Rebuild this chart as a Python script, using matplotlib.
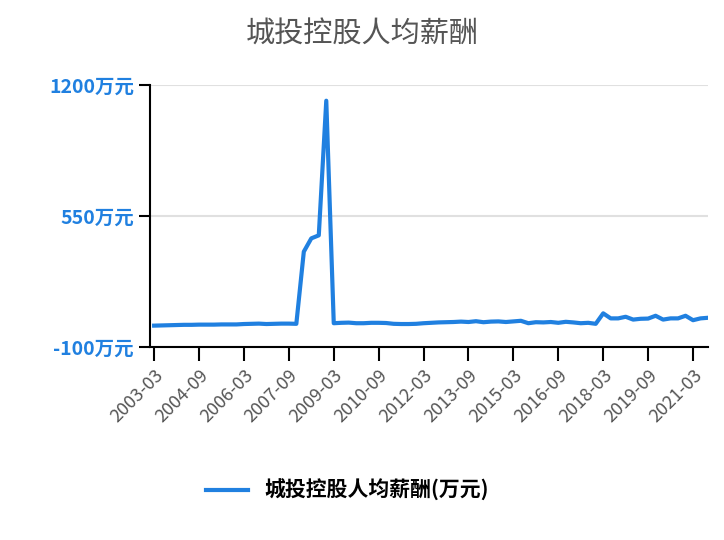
import pandas as pd
import matplotlib.pyplot as plt

plt.rcParams['font.family'] = ['Noto Sans CJK SC', 'DejaVu Sans']

dates = pd.period_range('2003Q1', '2021Q3', freq='Q')
labels = [f'{p.year}-{p.quarter * 3:02d}' for p in dates]
salary = [6, 7, 8, 9, 10, 10, 11, 11, 11, 12, 12, 12, 14, 15, 16, 14, 15, 16, 16, 15,
          373, 439, 454, 1122, 18, 20, 21, 18, 18, 20, 20, 19, 15, 14, 14, 15, 18, 20, 22, 23,
          24, 26, 24, 28, 23, 26, 27, 24, 27, 30, 18, 23, 22, 24, 20, 25, 22, 18, 20, 15,
          67, 42, 42, 50, 36, 40, 41, 55, 36, 42, 42, 55, 33, 42, 45]
blue = '#2080e0'

fig = plt.figure(figsize=(7.24, 5.4), dpi=100)
ax = fig.add_axes([150 / 724, 1 - 347 / 540, (708 - 150) / 724, 262 / 540])
x = range(len(salary))
ax.plot(x, salary, color=blue, lw=3, label='城投控股人均薪酬(万元)')
ax.set_xlim(-0.55, len(salary) - 1)
ax.set_ylim(-100, 1200)
ax.set_yticks([-100, 550, 1200])
ax.set_yticklabels(['-100万元', '550万元', '1200万元'], color=blue,
                   fontsize=14, fontweight='bold')
ax.tick_params(axis='y', length=8, width=1.5)
ticks = list(range(0, len(salary), 6))
ax.set_xticks(ticks)
ax.set_xticklabels([labels[i] for i in ticks], rotation=45, ha='right',
                   rotation_mode='anchor', color='#555555', fontsize=13)
ax.tick_params(axis='x', length=10, width=1.5)
ax.grid(axis='y', color='#e0e0e0', lw=1.5)
ax.set_axisbelow(True)
for s in ['top', 'right']:
    ax.spines[s].set_visible(False)
for s in ['left', 'bottom']:
    ax.spines[s].set_linewidth(1.5)
fig.text(0.5, 1 - 35 / 540, '城投控股人均薪酬', ha='center', va='center',
         fontsize=21, color='#555555')
fig.legend(loc='center', bbox_to_anchor=(0.48, 1 - 490 / 540), frameon=False,
           prop={'size': 15, 'weight': 'bold'}, handlelength=2)
plt.savefig('out.png')
